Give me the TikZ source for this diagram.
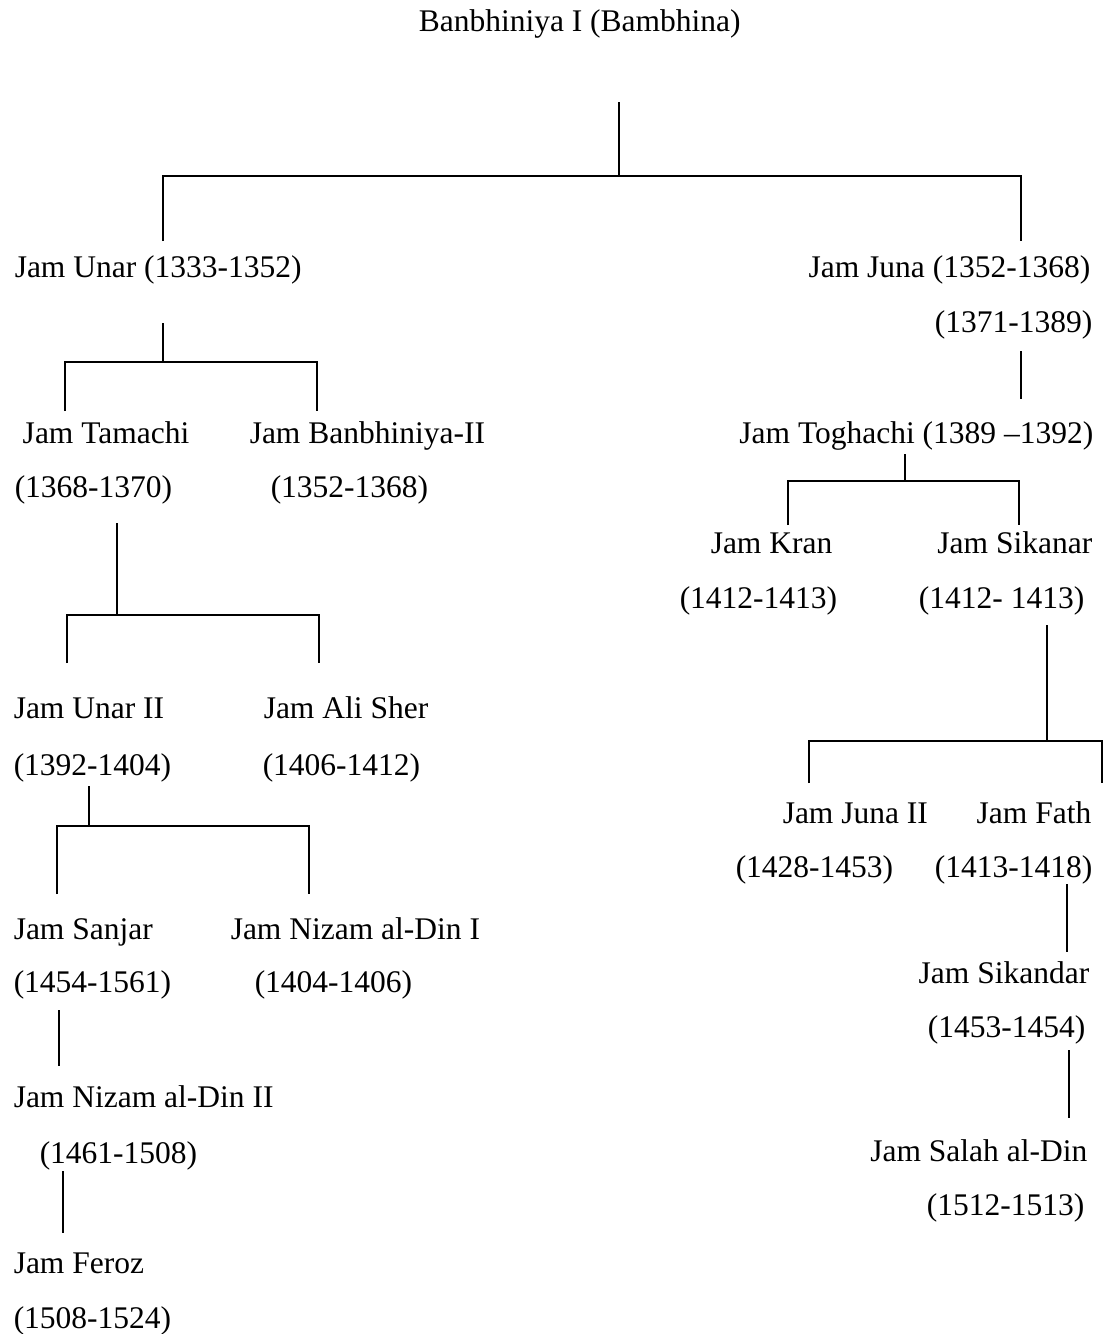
\documentclass[tikz,border=0pt]{standalone}
\usepackage{fontspec}
\setmainfont{Liberation Serif}
\begin{document}
\begin{tikzpicture}[x=1pt,y=-1pt,
    lbl/.style={anchor=base west,inner sep=0pt},
    rlbl/.style={anchor=base east,inner sep=0pt},
    font=\fontsize{31.5}{38}\selectfont,
    line width=1.5pt]
    \useasboundingbox (0,0) rectangle (1105,1334);

    % Root of the tree
    \node[lbl] (root) at (418,31) {Banbhiniya I (Bambhina)};

    % Left branch
    \node[lbl] (unar) at (14,277) {Jam Unar (1333-1352)};
    \node[lbl] (tamachi) at (22,443) {Jam Tamachi};
    \node[lbl] (tamachiy) at (14,497) {(1368-1370)};
    \node[lbl] (banbII) at (249,443) {Jam Banbhiniya-II};
    \node[lbl] (banbIIy) at (270,497) {(1352-1368)};
    \node[lbl] (unarII) at (13,718) {Jam Unar II};
    \node[lbl] (unarIIy) at (13,775) {(1392-1404)};
    \node[lbl] (alisher) at (263,718) {Jam Ali Sher};
    \node[lbl] (alishery) at (262,775) {(1406-1412)};
    \node[lbl] (sanjar) at (13,939) {Jam Sanjar};
    \node[lbl] (sanjary) at (13,992) {(1454-1561)};
    \node[lbl] (nizamI) at (230,939) {Jam Nizam al-Din I};
    \node[lbl] (nizamIy) at (254,992) {(1404-1406)};
    \node[lbl] (nizamII) at (13,1107) {Jam Nizam al-Din II};
    \node[lbl] (nizamIIy) at (39,1163) {(1461-1508)};
    \node[lbl] (feroz) at (13,1273) {Jam Feroz};
    \node[lbl] (ferozy) at (13,1328) {(1508-1524)};

    % Right branch
    \node[rlbl] (juna) at (1091,277) {Jam Juna (1352-1368)};
    \node[rlbl] (junay) at (1093,332) {(1371-1389)};
    \node[rlbl] (toghachi) at (1094,443) {Jam Toghachi (1389 --1392)};
    \node[lbl] (kran) at (710,553) {Jam Kran};
    \node[lbl] (krany) at (679,608) {(1412-1413)};
    \node[rlbl] (sikanar) at (1093,553) {Jam Sikanar};
    \node[rlbl] (sikanary) at (1085,608) {(1412- 1413)};
    \node[lbl] (junaII) at (782,823) {Jam Juna II};
    \node[lbl] (junaIIy) at (735,877) {(1428-1453)};
    \node[rlbl] (fath) at (1092,823) {Jam Fath};
    \node[rlbl] (fathy) at (1093,877) {(1413-1418)};
    \node[rlbl] (sikandar) at (1090,983) {Jam Sikandar};
    \node[rlbl] (sikandary) at (1086,1037) {(1453-1454)};
    \node[rlbl] (salah) at (1088,1161) {Jam Salah al-Din};
    \node[rlbl] (salahy) at (1085,1215) {(1512-1513)};

    % Junction points
    \coordinate (rtA) at (619,102);  \coordinate (rtB) at (619,176);
    \coordinate (rtBL) at (163,176); \coordinate (rtDL) at (163,241);
    \coordinate (rtBR) at (1021,176); \coordinate (rtDR) at (1021,241);

    \coordinate (unA) at (163,323);  \coordinate (unB) at (163,362);
    \coordinate (unBL) at (65,362);  \coordinate (unDL) at (65,411);
    \coordinate (unBR) at (317,362); \coordinate (unDR) at (317,411);

    \coordinate (tmA) at (117,523);  \coordinate (tmB) at (117,615);
    \coordinate (tmBL) at (67,615);  \coordinate (tmDL) at (67,663);
    \coordinate (tmBR) at (319,615); \coordinate (tmDR) at (319,663);

    \coordinate (u2A) at (89,786);   \coordinate (u2B) at (89,826);
    \coordinate (u2BL) at (57,826);  \coordinate (u2DL) at (57,894);
    \coordinate (u2BR) at (309,826); \coordinate (u2DR) at (309,894);

    \coordinate (sjA) at (59,1010);  \coordinate (sjB) at (59,1066);
    \coordinate (nzA) at (63,1171);  \coordinate (nzB) at (63,1233);

    \coordinate (juA) at (1021,351); \coordinate (juB) at (1021,399);

    \coordinate (tgA) at (905,454);  \coordinate (tgB) at (905,481);
    \coordinate (tgBL) at (788,481); \coordinate (tgDL) at (788,525);
    \coordinate (tgBR) at (1019,481); \coordinate (tgDR) at (1019,525);

    \coordinate (skA) at (1047,625); \coordinate (skB) at (1047,741);
    \coordinate (skBL) at (809,741); \coordinate (skDL) at (809,783);
    \coordinate (skBR) at (1102,741); \coordinate (skDR) at (1102,783);

    \coordinate (ftA) at (1067,884); \coordinate (ftB) at (1067,952);
    \coordinate (sdA) at (1069,1050); \coordinate (sdB) at (1069,1118);

    % Connectors
    \draw (rtA) -- (rtB);
    \draw (rtDL) -- (rtBL) -- (rtBR) -- (rtDR);
    \draw (unA) -- (unB);
    \draw (unDL) -- (unBL) -- (unBR) -- (unDR);
    \draw (tmA) -- (tmB);
    \draw (tmDL) -- (tmBL) -- (tmBR) -- (tmDR);
    \draw (u2A) -- (u2B);
    \draw (u2DL) -- (u2BL) -- (u2BR) -- (u2DR);
    \draw (sjA) -- (sjB);
    \draw (nzA) -- (nzB);
    \draw (juA) -- (juB);
    \draw (tgA) -- (tgB);
    \draw (tgDL) -- (tgBL) -- (tgBR) -- (tgDR);
    \draw (skA) -- (skB);
    \draw (skDL) -- (skBL) -- (skBR) -- (skDR);
    \draw (ftA) -- (ftB);
    \draw (sdA) -- (sdB);
\end{tikzpicture}
\end{document}
